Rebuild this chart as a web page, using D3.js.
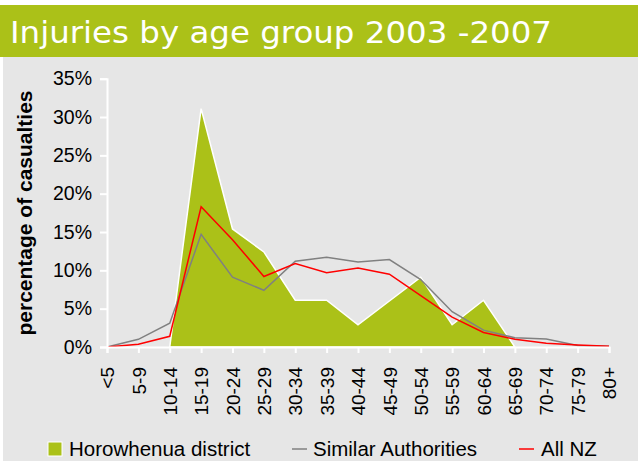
<!DOCTYPE html>
<html>
<head>
<meta charset="utf-8">
<script src="https://cdn.jsdelivr.net/npm/d3@7"></script>
<style>
  body { margin: 0; background: #fff; }
  text { font-family: "Liberation Sans", Arial, sans-serif; }
</style>
</head>
<body>
<svg id="chart" width="638" height="461"></svg>
<script>
const ageGroups = ["<5", "5-9", "10-14", "15-19", "20-24", "25-29", "30-34", "35-39",
  "40-44", "45-49", "50-54", "55-59", "60-64", "65-69", "70-74", "75-79", "80+"];
// percent of casualties
const horowhenua = [0, 0, 0, 31.1, 15.4, 12.4, 6.1, 6.1, 2.9, 6.0, 9.1, 2.9, 6.1, 0];
const similarAuth = [0, 1.0, 3.1, 14.7, 9.1, 7.4, 11.2, 11.7, 11.1, 11.4, 8.8, 4.6, 2.2, 1.2, 1.05, 0.2, 0.1];
const allNZ = [0, 0.35, 1.4, 18.3, 14.0, 9.2, 10.9, 9.7, 10.3, 9.5, 6.7, 3.9, 1.9, 1.0, 0.5, 0.26, 0.1];
const yTicks = [0, 5, 10, 15, 20, 25, 30, 35];

const green = "#abc118";
const svg = d3.select("#chart");

// page background + title bar
svg.append("rect").attr("x", 3).attr("y", 57).attr("width", 635).attr("height", 404).attr("fill", "#e6e6e6");
svg.append("rect").attr("x", 0).attr("y", 5).attr("width", 638).attr("height", 52).attr("fill", green);
svg.append("text")
  .attr("x", 10).attr("y", 43)
  .attr("textLength", 542).attr("lengthAdjust", "spacingAndGlyphs")
  .style("font-family", "'DejaVu Sans', Verdana, sans-serif")
  .style("font-size", "30px")
  .attr("fill", "#fff")
  .text("Injuries by age group 2003 -2007");

const x = d3.scalePoint().domain(ageGroups).range([107, 609]);
const y = d3.scaleLinear().domain([0, 35]).range([347, 78.7]);

// green area
const area = d3.area()
  .x((d, i) => x(ageGroups[i]))
  .y0(y(0))
  .y1(d => y(d));
svg.append("path")
  .datum(horowhenua.slice(2))
  .attr("transform", `translate(${x(ageGroups[2]) - x(ageGroups[0])},0)`)
  .attr("d", area)
  .attr("fill", green)
  .attr("stroke", "#fff")
  .attr("stroke-width", 1.5);

const line = d3.line().x((d, i) => x(ageGroups[i])).y(d => y(d));
svg.append("path").datum(similarAuth).attr("d", line)
  .attr("fill", "none").attr("stroke", "#808080").attr("stroke-width", 1.5);
svg.append("path").datum(allNZ).attr("d", line)
  .attr("fill", "none").attr("stroke", "#ff0000").attr("stroke-width", 1.5);

// axes
const yAxis = svg.append("g").attr("transform", "translate(107,0)")
  .call(d3.axisLeft(y).tickValues(yTicks).tickSize(7).tickPadding(8).tickFormat(d => d + "%"));
const xAxis = svg.append("g").attr("transform", "translate(0,347)")
  .call(d3.axisBottom(x).tickSize(6).tickPadding(4));

[yAxis, xAxis].forEach(g => {
  g.select(".domain").attr("stroke", "#fff").attr("stroke-width", 2);
  g.selectAll(".tick line").attr("stroke", "#fff").attr("stroke-width", 2);
  g.selectAll("text").attr("fill", "#000").style("font-size", "19.5px")
    .style("font-family", "'Liberation Sans', Arial, sans-serif");
});
xAxis.selectAll(".tick text")
  .attr("transform", "rotate(-90)")
  .attr("x", -20).attr("y", 0).attr("dy", "0.35em")
  .style("font-size", "19px")
  .style("text-anchor", "end");

svg.append("text")
  .attr("transform", "translate(32,213) rotate(-90)")
  .attr("text-anchor", "middle")
  .style("font-size", "21px").style("font-weight", "bold")
  .text("percentage of casualties");

// legend
const legend = svg.append("g").attr("transform", "translate(0,449)");
legend.append("rect").attr("x", 48).attr("y", -7).attr("width", 14).attr("height", 14)
  .attr("fill", green).attr("stroke", "#fff").attr("stroke-width", 1);
legend.append("text").attr("x", 69).attr("y", 0).attr("dy", "0.35em").style("font-size", "20.5px").text("Horowhenua district");
legend.append("line").attr("x1", 292).attr("x2", 307).attr("y1", 0).attr("y2", 0).attr("stroke", "#808080").attr("stroke-width", 1.5);
legend.append("text").attr("x", 313).attr("y", 0).attr("dy", "0.35em").style("font-size", "20.5px").text("Similar Authorities");
legend.append("line").attr("x1", 519).attr("x2", 534).attr("y1", 0).attr("y2", 0).attr("stroke", "#ff0000").attr("stroke-width", 1.5);
legend.append("text").attr("x", 541).attr("y", 0).attr("dy", "0.35em").style("font-size", "20.5px").text("All NZ");
</script>
</body>
</html>
